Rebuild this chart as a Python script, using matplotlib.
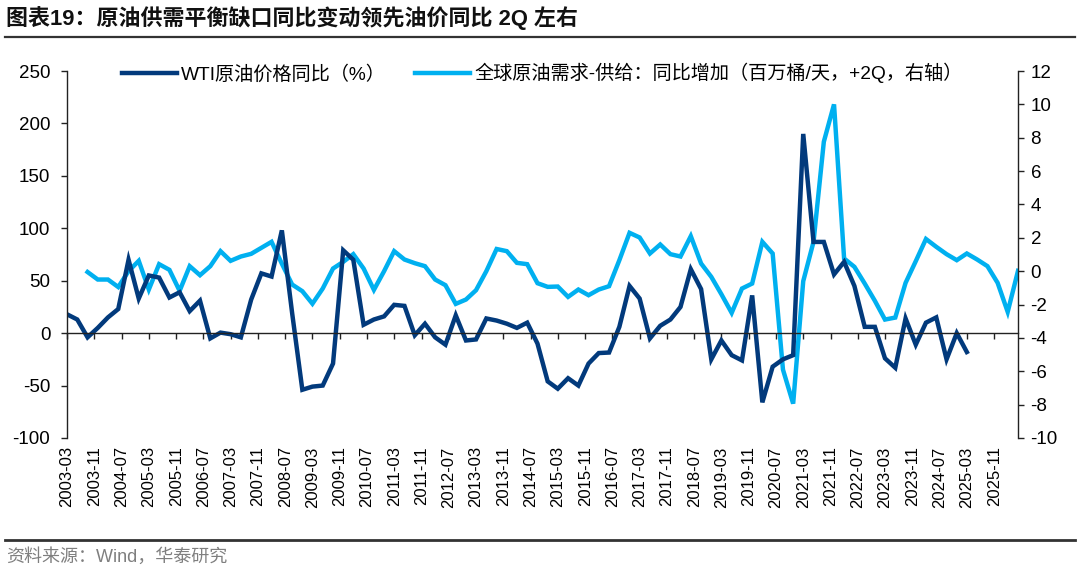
import numpy as np
import pandas as pd
import matplotlib
matplotlib.use("Agg")
import matplotlib.pyplot as plt
from matplotlib.lines import Line2D

plt.rcParams['font.family'] = ['Liberation Sans', 'Noto Sans CJK SC', 'DejaVu Sans']
plt.rcParams['axes.unicode_minus'] = False

# WTI price YoY (%), quarterly 2003-03 .. 2025-03
wti_yoy = [18, 13, -4, 5, 15, 23, 70, 33, 55, 53,
           34, 39, 21, 31, -5, 0.5, -1, -4, 32, 57,
           54, 98, 19, -54, -51, -50, -29, 79, 70, 8,
           13, 16, 27, 26, -2, 9, -4, -11, 17, -7,
           -6, 14, 12, 9, 5, 10, -10, -46, -53, -43,
           -50, -29, -19, -18.5, 6, 45, 33, -5, 7, 13,
           25, 61, 42, -25, -7, -21, -26, 36, -66, -32,
           -25, -21, 190, 87, 87, 56, 68, 45, 6, 6,
           -24, -33, 14, -11, 10, 15, -25, 0, -18]

# global oil demand - supply, YoY change (mb/d), shifted +2Q, quarterly 2003-09 .. 2026-06
gap_yoy = [-0.05, -0.5, -0.5, -0.95, 0.0, 0.62, -1.1, 0.42, 0.08, -1.18,
           0.3, -0.24, 0.3, 1.2, 0.62, 0.88, 1.04, 1.4, 1.76, 0.45,
           -0.8, -1.2, -1.95, -1.04, 0.16, 0.56, 1.02, 0.16, -1.12, 0.0,
           1.2, 0.7, 0.48, 0.3, -0.5, -0.84, -1.96, -1.7, -1.14, 0.0,
           1.33, 1.2, 0.5, 0.42, -0.72, -0.94, -0.92, -1.54, -1.1, -1.44,
           -1.1, -0.9, 0.66, 2.3, 2.02, 1.06, 1.6, 1.02, 0.88, 2.1,
           0.46, -0.34, -1.38, -2.5, -1.04, -0.74, 1.76, 1.06, -5.9, -7.94,
           -0.6, 1.76, 7.76, 10.0, 0.76, 0.26, -0.74, -1.78, -2.9, -2.78,
           -0.7, 0.6, 1.93, 1.46, 1.02, 0.66, 1.06, 0.7, 0.3, -0.7,
           -2.44, 0.02]

wti_dates = pd.date_range('2003-03-01', periods=len(wti_yoy), freq='3MS')
gap_dates = pd.date_range('2003-09-01', periods=len(gap_yoy), freq='3MS')
tick_dates = pd.date_range('2003-03-01', '2025-11-01', freq='8MS')
tick_labels = [d.strftime('%Y-%m') for d in tick_dates]

title = '图表19：原油供需平衡缺口同比变动领先油价同比 2Q 左右'
source = '资料来源：Wind，华泰研究'
label_wti = 'WTI原油价格同比（%）'
label_gap = '全球原油需求-供给：同比增加（百万桶/天，+2Q，右轴）'

dark = '#023a7c'
light = '#00b0f0'

fig = plt.figure(figsize=(10.8, 5.76), dpi=100)
ax = fig.add_axes([0.062, 0.2396, 0.8806, 0.6371])
ax2 = ax.twinx()

l1, = ax.plot(wti_dates, wti_yoy, color=dark, lw=3.2, solid_joinstyle='miter')
l2, = ax2.plot(gap_dates, gap_yoy, color=light, lw=3.2, solid_joinstyle='miter')

# dark line drawn over the light one
ax.set_zorder(ax2.get_zorder() + 1)
ax.patch.set_visible(False)

ax.set_xlim(pd.Timestamp('2003-03-01'), pd.Timestamp('2026-06-01'))
ax.set_ylim(-100, 250)
ax.set_yticks(np.arange(-100, 251, 50))
ax2.set_ylim(-10, 12)
ax2.set_yticks(np.arange(-10, 13, 2))

for a in (ax, ax2):
    a.spines['top'].set_visible(False)
    a.spines['bottom'].set_visible(False)
    for s in ('left', 'right'):
        a.spines[s].set_color('#222222')
        a.spines[s].set_linewidth(1.0)

ax.spines['right'].set_visible(False)
ax2.spines['left'].set_visible(False)
ax.spines['bottom'].set_visible(True)
ax.spines['bottom'].set_position(('data', 0))
ax.spines['bottom'].set_color('#222222')
ax.spines['bottom'].set_linewidth(1.0)

ax.set_xticks(tick_dates)
ax.tick_params(axis='x', direction='out', length=4, width=1, color='#222222',
               labelbottom=False)
ax.tick_params(axis='y', direction='out', length=4, width=1, color='#222222',
               labelsize=13.5, pad=8)
ax2.tick_params(axis='y', direction='out', length=4, width=1, color='#222222',
                labelsize=13.5, pad=5)

# date labels sit below the plot area, not on the zero line
sec = ax.secondary_xaxis('bottom')
sec.set_xticks(tick_dates)
sec.set_xticklabels(tick_labels, rotation=90, fontsize=12)
sec.tick_params(axis='x', length=0, pad=6)
sec.spines['bottom'].set_visible(False)

fig.legend([l1, l2], [label_wti, label_gap], loc='center',
           bbox_to_anchor=(0.502, 0.873), ncol=2, frameon=False,
           fontsize=13.8, handlelength=2.9, handletextpad=0.2,
           columnspacing=1.5)

fig.text(0.006, 0.968, title, fontsize=15.8, fontweight='bold',
         ha='left', va='center', color='#111111')
fig.add_artist(Line2D([0.005, 0.995], [0.936, 0.936], color='#333333', lw=1.6))
fig.add_artist(Line2D([0.005, 0.995], [0.0625, 0.0625], color='#333333', lw=2.0))
fig.text(0.006, 0.033, source, fontsize=13, color='#7f7f7f',
         ha='left', va='center')

fig.savefig('out.png', dpi=100)
